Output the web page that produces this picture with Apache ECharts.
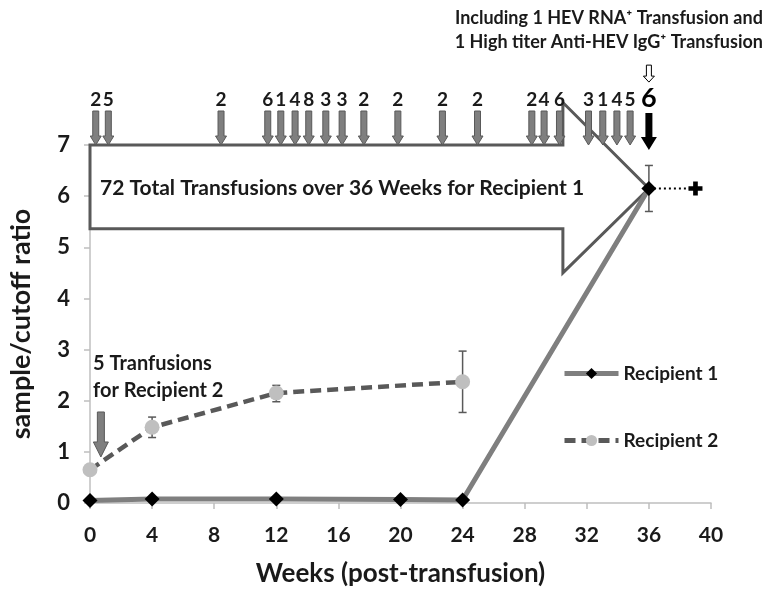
<!DOCTYPE html>
<html>
  <head>
    <meta charset="UTF-8" />
    <title>HEV transfusion recipients</title>
    <style>
      html, body { margin: 0; padding: 0; background: #fff; }
      #chart { width: 768px; height: 598px; }
    </style>
    <script type="text/javascript" src="https://cdn.jsdelivr.net/npm/echarts@6/dist/echarts.min.js"></script>
  </head>
  <body>
    <div id="chart"></div>
    <script>
      // Recipient 1 / 2 sample-to-cutoff ratios
      const weeks1 = [0, 4, 12, 20, 24, 36];
      const ratio1 = [0.05, 0.08, 0.08, 0.07, 0.06, 6.15];
      const errors1 = [[36, 5.7, 6.6]];
      const weeks2 = [0, 4, 12, 24];
      const ratio2 = [0.65, 1.48, 2.15, 2.37];
      const errors2 = [[4, 1.28, 1.68], [12, 1.98, 2.3], [24, 1.77, 2.97]];
      const followWeeks = [36, 39];
      const followRatio = [6.15, 6.15];

      // transfusions given to recipient 1 (week, count)
      const transWeeks = [0.37, 1.18, 8.44, 11.45, 12.29, 13.21, 14.09, 15.19, 16.24, 17.64, 19.83,
                          22.7, 24.96, 28.46, 29.25, 30.24, 32.11, 33.03, 33.94, 34.79];
      const transCounts = [2, 5, 2, 6, 1, 4, 8, 3, 3, 2, 2, 2, 2, 2, 4, 6, 3, 1, 4, 5];
      const lastTransWeek = 36;
      const lastTransCount = 6;
      const recip2TransWeek = 0.7;

      const xTicks = { min: 0, max: 40, interval: 4 };
      const yTicks = { min: 0, max: 7, interval: 1 };

      const FONT = 'Lato';
      const TXT = '#1a1a1a';

      const chart = echarts.init(document.getElementById('chart'));

      function downArrow(x, yTip, len, shaftW, headW, headH) {
        return [
          [x - shaftW / 2, yTip - len], [x + shaftW / 2, yTip - len],
          [x + shaftW / 2, yTip - headH], [x + headW / 2, yTip - headH],
          [x, yTip],
          [x - headW / 2, yTip - headH], [x - shaftW / 2, yTip - headH]
        ];
      }

      function errorBarItem(color) {
        return function (params, api) {
          const top = api.coord([api.value(0), api.value(2)]);
          const bot = api.coord([api.value(0), api.value(1)]);
          const st = { stroke: color, lineWidth: 1.5 };
          return {
            type: 'group',
            children: [
              { type: 'line', shape: { x1: top[0], y1: top[1], x2: bot[0], y2: bot[1] }, style: st },
              { type: 'line', shape: { x1: top[0] - 4, y1: top[1], x2: top[0] + 4, y2: top[1] }, style: st },
              { type: 'line', shape: { x1: bot[0] - 4, y1: bot[1], x2: bot[0] + 4, y2: bot[1] }, style: st }
            ]
          };
        };
      }

      // big block arrow outline (week, ratio)
      const blockArrow = [[0, 7], [30.46, 7], [30.46, 7.83], [36, 6.15], [30.46, 4.5], [30.46, 5.36], [0, 5.36]];

      chart.setOption({
        animation: false,
        grid: { left: 90, right: 57, top: 145, bottom: 95 },
        legend: {
          data: ['Recipient 1', 'Recipient 2'],
          orient: 'vertical',
          left: 557,
          top: 359,
          itemWidth: 54,
          itemHeight: 14,
          itemGap: 48,
          lineStyle: { width: 5 },
          textStyle: { fontFamily: FONT, fontSize: 19, fontWeight: 'bold', color: TXT }
        },
        xAxis: {
          type: 'value',
          min: xTicks.min, max: xTicks.max, interval: xTicks.interval,
          name: 'Weeks (post-transfusion)',
          nameLocation: 'middle',
          nameGap: 58,
          nameTextStyle: { fontFamily: FONT, fontSize: 26, fontWeight: 'bold', color: TXT },
          axisLine: { show: true, lineStyle: { color: '#bfbfbf', width: 1.5 } },
          axisTick: { show: true, length: 6, lineStyle: { color: '#bfbfbf', width: 1.5 } },
          axisLabel: { fontFamily: FONT, fontSize: 21, fontWeight: 'bold', color: TXT, margin: 22 },
          splitLine: { show: false }
        },
        yAxis: {
          type: 'value',
          min: yTicks.min, max: yTicks.max, interval: yTicks.interval,
          name: 'sample/cutoff ratio',
          nameLocation: 'middle',
          nameGap: 55,
          nameTextStyle: { fontFamily: FONT, fontSize: 27, fontWeight: 'bold', color: TXT },
          axisLine: { show: true, lineStyle: { color: '#bfbfbf', width: 1.5 } },
          axisTick: { show: true, length: 6, lineStyle: { color: '#bfbfbf', width: 1.5 } },
          axisLabel: { fontFamily: FONT, fontSize: 22, fontWeight: 'bold', color: TXT, margin: 20 },
          splitLine: { show: false }
        },
        series: [
          {
            // block arrow and its caption
            type: 'custom',
            coordinateSystem: 'cartesian2d',
            silent: true,
            clip: false,
            z: 1,
            encode: { x: 0, y: 1 },
            data: [[0, 6.15]],
            renderItem: function (params, api) {
              const pts = blockArrow.map(p => api.coord(p));
              const c = api.coord([api.value(0), api.value(1)]);
              return {
                type: 'group',
                children: [
                  { type: 'polygon', shape: { points: pts }, style: { fill: 'none', stroke: '#595959', lineWidth: 3 } },
                  {
                    type: 'text', x: c[0] + 10, y: c[1],
                    style: {
                      text: '72 Total Transfusions over 36 Weeks for Recipient 1',
                      fontFamily: FONT, fontSize: 21, fontWeight: 'bold', fill: TXT,
                      verticalAlign: 'middle', align: 'left'
                    }
                  }
                ]
              };
            }
          },
          {
            // gray transfusion arrows on top of the block arrow
            type: 'custom',
            coordinateSystem: 'cartesian2d',
            silent: true,
            clip: false,
            z: 2,
            encode: { x: 0, y: 1 },
            data: transWeeks.map((w, i) => [w, yTicks.max, transCounts[i]]),
            renderItem: function (params, api) {
              const c = api.coord([api.value(0), api.value(1)]);
              return {
                type: 'group',
                children: [
                  { type: 'polygon', shape: { points: downArrow(c[0], c[1], 34, 6, 11, 9) }, style: { fill: '#7f7f7f', stroke: '#595959', lineWidth: 1 } },
                  {
                    type: 'text', x: c[0], y: c[1] - 45,
                    style: { text: String(api.value(2)), fontFamily: FONT, fontSize: 19, fontWeight: 'bold', fill: TXT, align: 'center', verticalAlign: 'middle' }
                  }
                ]
              };
            }
          },
          {
            // final (infectious) transfusion at week 36
            type: 'custom',
            coordinateSystem: 'cartesian2d',
            silent: true,
            clip: false,
            z: 2,
            encode: { x: 0, y: 1 },
            data: [[lastTransWeek, 6.9, lastTransCount]],
            renderItem: function (params, api) {
              const c = api.coord([api.value(0), api.value(1)]);
              const top = c[1] - 37;
              return {
                type: 'group',
                children: [
                  { type: 'polygon', shape: { points: downArrow(c[0], c[1], 37, 7, 16, 13) }, style: { fill: '#000' } },
                  {
                    type: 'text', x: c[0], y: top - 15,
                    style: { text: String(api.value(2)), fontFamily: FONT, fontSize: 27, fontWeight: 'bold', fill: '#000', align: 'center', verticalAlign: 'middle' }
                  },
                  { type: 'polygon', shape: { points: downArrow(c[0], top - 31, 17, 5, 11, 6) }, style: { fill: '#fff', stroke: '#000', lineWidth: 1 } },
                  {
                    type: 'text', x: c[0] - 40, y: 6,
                    style: {
                      text: 'Including 1 HEV RNA\u207A Transfusion and\n1 High titer Anti-HEV IgG\u207A Transfusion',
                      fontFamily: FONT, fontSize: 18, fontWeight: 'bold', fill: TXT,
                      align: 'center', verticalAlign: 'top', lineHeight: 24
                    }
                  }
                ]
              };
            }
          },
          {
            // recipient 2 transfusion note
            type: 'custom',
            coordinateSystem: 'cartesian2d',
            silent: true,
            clip: false,
            z: 2,
            encode: { x: 0, y: 1 },
            data: [[recip2TransWeek, 0.9]],
            renderItem: function (params, api) {
              const c = api.coord([api.value(0), api.value(1)]);
              const x0 = api.coord([0, 0])[0];
              return {
                type: 'group',
                children: [
                  { type: 'polygon', shape: { points: downArrow(c[0], c[1], 45, 7, 15, 15) }, style: { fill: '#7f7f7f', stroke: '#595959', lineWidth: 1 } },
                  {
                    type: 'text', x: x0 + 3, y: c[1] - 107,
                    style: {
                      text: '5 Tranfusions\nfor Recipient 2',
                      fontFamily: FONT, fontSize: 20, fontWeight: 'bold', fill: TXT,
                      align: 'left', verticalAlign: 'top', lineHeight: 27
                    }
                  }
                ]
              };
            }
          },
          {
            type: 'custom',
            coordinateSystem: 'cartesian2d',
            silent: true,
            z: 3,
            encode: { x: 0, y: [1, 2] },
            data: errors1,
            renderItem: errorBarItem('#595959')
          },
          {
            type: 'custom',
            coordinateSystem: 'cartesian2d',
            silent: true,
            z: 3,
            encode: { x: 0, y: [1, 2] },
            data: errors2,
            renderItem: errorBarItem('#595959')
          },
          {
            name: 'Recipient 1',
            type: 'line',
            z: 5,
            data: weeks1.map((w, i) => [w, ratio1[i]]),
            symbol: 'diamond',
            symbolSize: 15,
            itemStyle: { color: '#000' },
            lineStyle: { color: '#7f7f7f', width: 5 }
          },
          {
            name: 'Recipient 2',
            type: 'line',
            z: 5,
            data: weeks2.map((w, i) => [w, ratio2[i]]),
            symbol: 'circle',
            symbolSize: 15,
            itemStyle: { color: '#bfbfbf' },
            lineStyle: { color: '#595959', width: 4.5, type: [11, 6] }
          },
          {
            name: 'follow-up',
            type: 'line',
            z: 4,
            data: followWeeks.map((w, i) => ({
              value: [w, followRatio[i]],
              symbol: i === 0 ? 'none' : 'path://M4,0H8V4H12V8H8V12H4V8H0V4H4Z',
              symbolSize: 14
            })),
            itemStyle: { color: '#000' },
            lineStyle: { color: '#000', width: 2, type: [2, 3] }
          }
        ]
      });
    </script>
  </body>
</html>
